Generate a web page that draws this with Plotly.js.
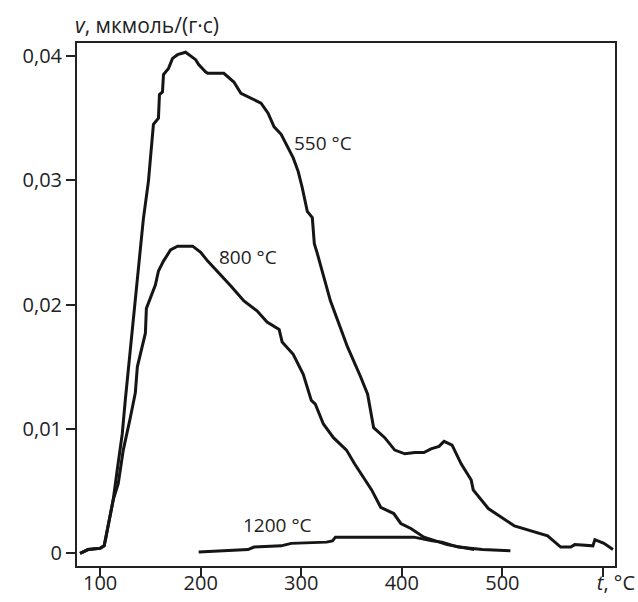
<!DOCTYPE html>
<html>
<head>
<meta charset="utf-8">
<script src="https://cdn.plot.ly/plotly-3.0.1.min.js"></script>
<style>html,body{margin:0;padding:0;background:#fff;}#chart{width:638px;height:602px;}</style>
</head>
<body>
<div id="chart"></div>
<script>
// Temperature t, °C and rate v, мкмоль/(г·с)
const t550 = [80, 88, 100, 104, 106, 110, 113, 117, 122, 125, 127, 130, 133, 135, 140, 143, 148, 152, 153, 158, 159, 162, 163, 168, 172, 177, 185, 195, 198, 205, 207, 223, 233, 240, 260, 267, 273, 280, 287, 292, 297, 301, 306, 311, 313, 316, 329, 346, 359, 366, 372, 383, 393, 403, 413, 422, 429, 437, 442, 450, 459, 469, 471, 486, 512, 529, 545, 558, 568, 572, 590, 592, 601, 610];
const v550 = [0.0000, 0.0003, 0.0004, 0.0006, 0.0014, 0.0030, 0.0043, 0.0067, 0.0096, 0.0123, 0.0139, 0.0163, 0.0190, 0.0204, 0.0245, 0.0269, 0.0299, 0.0339, 0.0345, 0.0350, 0.0369, 0.0371, 0.0385, 0.0390, 0.0398, 0.0401, 0.0403, 0.0397, 0.0393, 0.0387, 0.0386, 0.0386, 0.0379, 0.0370, 0.0362, 0.0354, 0.0343, 0.0337, 0.0326, 0.0318, 0.0307, 0.0294, 0.0275, 0.0270, 0.0249, 0.0241, 0.0203, 0.0166, 0.0142, 0.0128, 0.0101, 0.0093, 0.0083, 0.0080, 0.0081, 0.0081, 0.0084, 0.0086, 0.0090, 0.0087, 0.0072, 0.0059, 0.0051, 0.0036, 0.0022, 0.0018, 0.0014, 0.0005, 0.0005, 0.0007, 0.0006, 0.0011, 0.0008, 0.0003];

const t800 = [80, 88, 100, 104, 106, 110, 113, 118, 123, 130, 135, 137, 145, 146, 151, 155, 158, 163, 170, 177, 192, 200, 207, 213, 230, 243, 256, 266, 278, 281, 292, 302, 310, 314, 322, 332, 345, 353, 362, 370, 379, 392, 399, 409, 422, 445, 472];
const v800 = [0.0000, 0.0003, 0.0004, 0.0006, 0.0014, 0.0030, 0.0043, 0.0056, 0.0083, 0.0109, 0.0129, 0.0150, 0.0177, 0.0197, 0.0208, 0.0216, 0.0227, 0.0235, 0.0244, 0.0247, 0.0247, 0.0242, 0.0235, 0.0230, 0.0215, 0.0203, 0.0195, 0.0186, 0.0180, 0.0170, 0.0160, 0.0144, 0.0123, 0.0120, 0.0104, 0.0093, 0.0083, 0.0072, 0.0061, 0.0051, 0.0037, 0.0032, 0.0024, 0.0020, 0.0013, 0.0007, 0.0003];

const t1200 = [198, 225, 247, 253, 280, 290, 325, 331, 334, 370, 412, 430, 440, 456, 470, 480, 508];
const v1200 = [0.0001, 0.0002, 0.0003, 0.0005, 0.0006, 0.0008, 0.0009, 0.0010, 0.0013, 0.0013, 0.0013, 0.0010, 0.0009, 0.0005, 0.0004, 0.0003, 0.0002];

const seriesLabels = ['550 °C', '800 °C', '1200 °C'];
const labelT = [291, 216, 240];
const labelV = [0.0330, 0.0238, 0.0023];

const xTickVals = [100, 200, 300, 400, 500, 600];
const xTickText = ['100', '200', '300', '400', '500', '&nbsp;&nbsp;&nbsp;&nbsp;&nbsp;<i>t</i>, °C'];
const yTickVals = [0, 0.01, 0.02, 0.03, 0.04];
const yTickText = ['0', '0,01', '0,02', '0,03', '0,04'];
const yTitle = '<i>v</i>, мкмоль/(г·с)';

const lineStyle = {color: '#151515', width: 3, shape: 'linear'};
const traces = [
  {x: t550, y: v550, mode: 'lines', line: lineStyle, showlegend: false, hoverinfo: 'skip'},
  {x: t800, y: v800, mode: 'lines', line: lineStyle, showlegend: false, hoverinfo: 'skip'},
  {x: t1200, y: v1200, mode: 'lines', line: lineStyle, showlegend: false, hoverinfo: 'skip'}
];

const fam = '"Open Sans", "Noto Sans", sans-serif';
const font = {family: fam, size: 20, color: '#222'};
const annotations = seriesLabels.map((s, i) => ({
  x: labelT[i], y: labelV[i], xref: 'x', yref: 'y', text: s, showarrow: false,
  xanchor: 'left', yanchor: 'middle', font: {family: fam, size: 19, color: '#222'}
}));
annotations.push({
  x: 0, y: 1, xref: 'paper', yref: 'paper', xshift: -4, yshift: 2, text: yTitle, showarrow: false,
  xanchor: 'left', yanchor: 'bottom', font: {family: fam, size: 21, color: '#222'}
});

const layout = {
  width: 638, height: 602,
  margin: {l: 77, r: 23, t: 43, b: 36},
  paper_bgcolor: '#fff', plot_bgcolor: '#fff',
  font: font,
  xaxis: {
    range: [77, 612], tickvals: xTickVals, ticktext: xTickText,
    ticks: 'outside', ticklen: 9, tickwidth: 2, tickcolor: '#222',
    ticklabelstandoff: -11,
    showline: true, linewidth: 2, linecolor: '#222', mirror: true,
    showgrid: false, zeroline: false, tickfont: font
  },
  yaxis: {
    range: [-0.00102, 0.04104], tickvals: yTickVals, ticktext: yTickText,
    ticks: 'outside', ticklen: 9, tickwidth: 2, tickcolor: '#222',
    showline: true, linewidth: 2, linecolor: '#222', mirror: true,
    showgrid: false, zeroline: false, tickfont: font
  },
  annotations: annotations
};

Plotly.newPlot('chart', traces, layout, {displayModeBar: false, staticPlot: true});
</script>
</body>
</html>
